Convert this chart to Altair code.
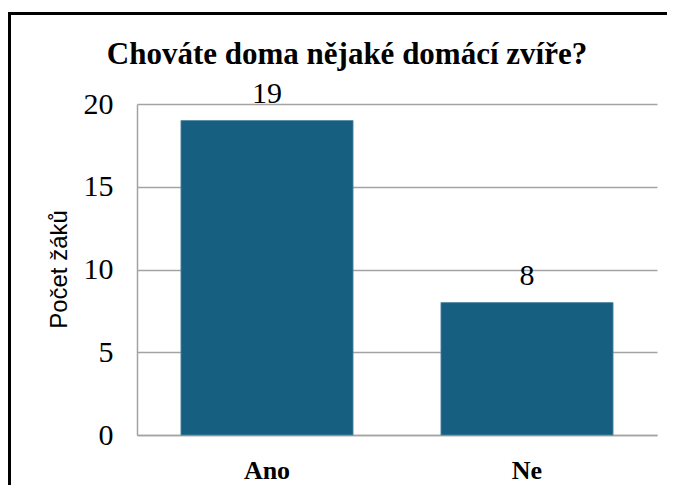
import altair as alt
import pandas as pd

categories = ["Ano", "Ne"]
counts = [19, 8]
title_text = "Chováte doma nějaké domácí zvíře?"
y_title = "Počet žáků"
y_ticks = [0, 5, 10, 15, 20]

df = pd.DataFrame({"odpoved": categories, "pocet": counts})

serif = "Liberation Serif"
grid_col = "#a3a3a3"

PLOT_W, PLOT_H = 520, 331
PAD = {"left": 129, "top": 96, "right": 10, "bottom": 50}

base = alt.Chart(df)

bars = base.mark_bar(color="#175f80", stroke="#4f87a3", strokeWidth=0.8).encode(
    x=alt.X(
        "odpoved:N",
        sort=categories,
        title=None,
        scale=alt.Scale(paddingInner=0.338, paddingOuter=0.169),
        axis=alt.Axis(
            labelAngle=0,
            labelFont=serif,
            labelFontSize=26,
            labelFontWeight="bold",
            labelColor="black",
            labelBaseline="alphabetic",
            labelPadding=43,
            ticks=False,
            domainColor=grid_col,
            domainWidth=1.5,
            grid=False,
        ),
    ),
    y=alt.Y(
        "pocet:Q",
        scale=alt.Scale(domain=[0, 20], nice=False),
        axis=alt.Axis(
            values=y_ticks,
            title=y_title,
            titleFont="Liberation Sans",
            titleFontSize=24,
            titleFontWeight="normal",
            titleColor="black",
            titleAngle=270,
            titleAlign="center",
            titleBaseline="alphabetic",
            titleX=-71,
            titleY=165,
            labelFont=serif,
            labelFontSize=30,
            labelColor="black",
            labelPadding=24,
            ticks=False,
            domainColor=grid_col,
            domainWidth=1.5,
            gridColor=grid_col,
            gridWidth=1.5,
        ),
    ),
)

labels = base.mark_text(
    font=serif, fontSize=30, color="black", baseline="alphabetic", dy=-18
).encode(
    x=alt.X("odpoved:N", sort=categories),
    y=alt.Y("pocet:Q"),
    text=alt.Text("pocet:Q"),
)

# decorative outer frame (left and top edges visible in the reference)
frame_data = pd.DataFrame({"f": [1]})
frame_left = alt.Chart(frame_data).mark_rule(
    color="black", strokeWidth=4, clip=False, strokeCap="butt"
).encode(
    x=alt.value(-128),
    y=alt.value(-92),
    y2=alt.value(PLOT_H + PAD["bottom"]),
)
frame_top = alt.Chart(frame_data).mark_rule(
    color="black", strokeWidth=3, clip=False, strokeCap="butt"
).encode(
    x=alt.value(-130),
    x2=alt.value(PLOT_W + PAD["right"]),
    y=alt.value(-90.5),
)

chart = (
    alt.layer(bars, labels, frame_left, frame_top)
    .properties(
        width=PLOT_W,
        height=PLOT_H,
        autosize=alt.AutoSizeParams(type="none"),
        padding=PAD,
        title=alt.TitleParams(
            text=title_text,
            font=serif,
            fontSize=31,
            fontWeight="bold",
            color="black",
            anchor="middle",
            baseline="alphabetic",
            offset=-85,
            dx=-50,
        ),
    )
    .configure_view(strokeWidth=0)
)

chart.save("out.html", embed_options={"renderer": "svg", "actions": False})
